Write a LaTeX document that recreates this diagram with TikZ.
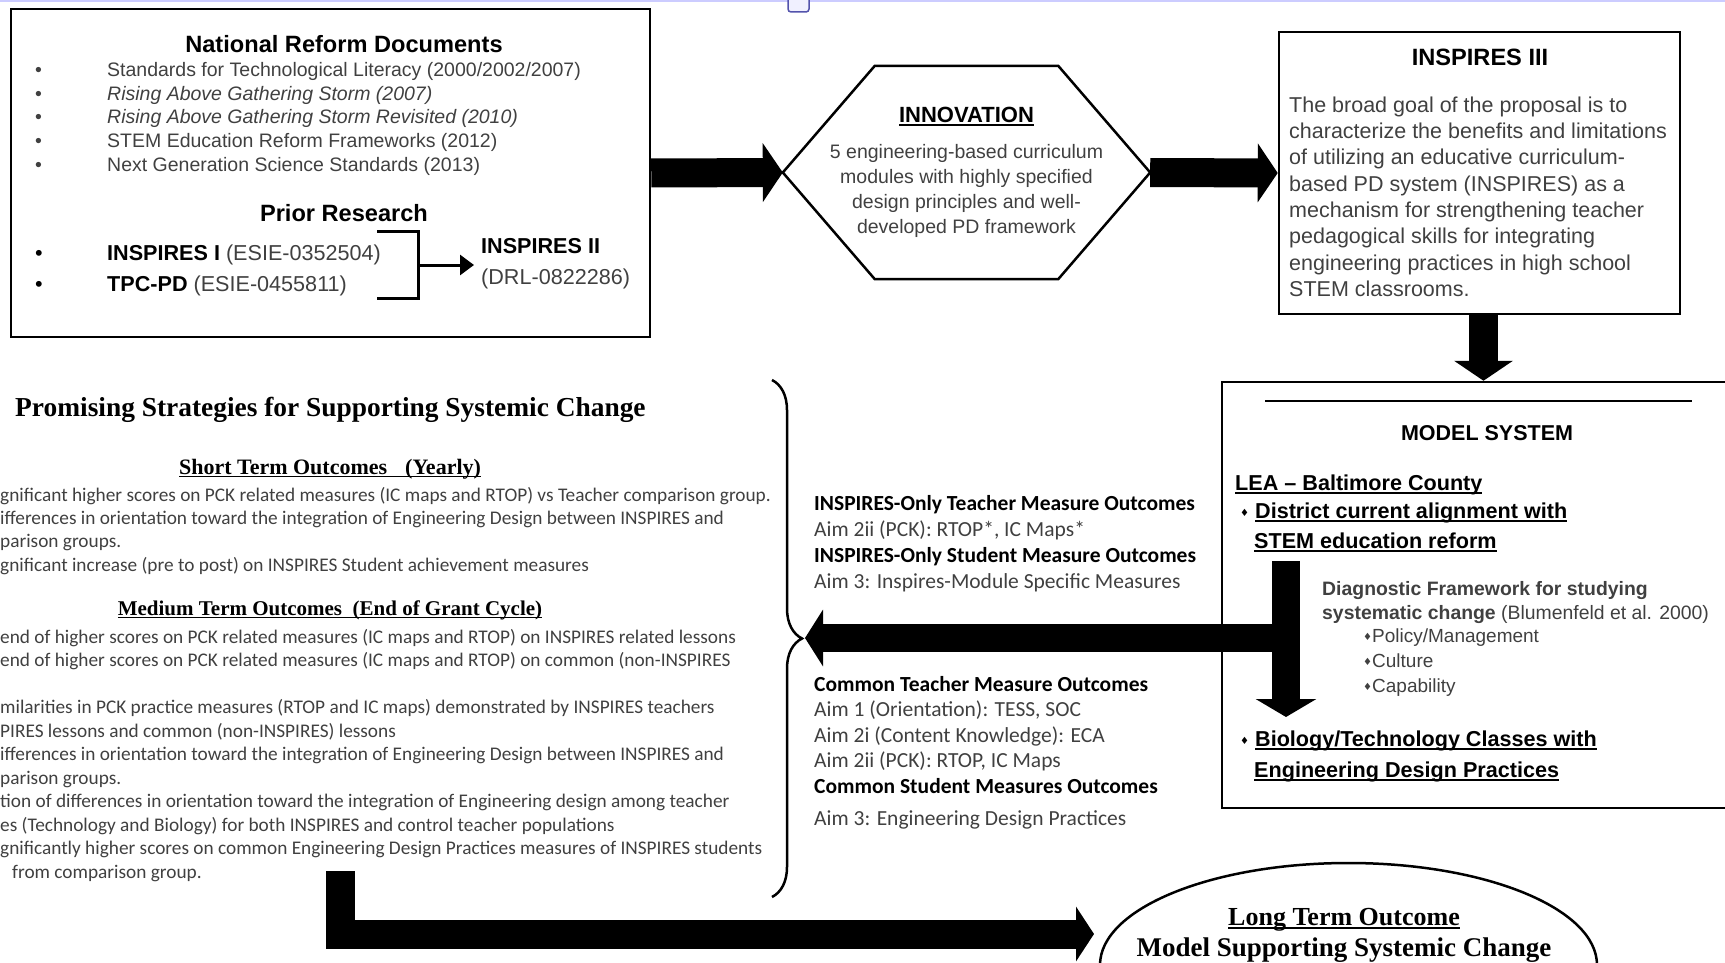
\documentclass[tikz,border=0pt]{standalone}
\usepackage{fontspec}
\setmainfont{Liberation Sans}
\newfontfamily\calib{Carlito}
\newfontfamily\camb{Liberation Serif}
\newfontfamily\symf{DejaVu Sans}
\usetikzlibrary{arrows.meta, decorations.pathreplacing, shapes.geometric}

\definecolor{txtgray}{gray}{0.25}
\newcommand{\fsz}[2]{\fontsize{#1}{#2}\selectfont}
\newcommand{\uln}[1]{\leavevmode\setbox0\hbox{#1}\rlap{\rule[-3pt]{\wd0}{1.5pt}}\box0}
\newcommand{\dotbul}[1]{\makebox[72pt][l]{\textbullet}#1}
\newcommand{\dia}{{\symf\fsz{10}{10}\raisebox{2pt}{♦}}}
\newcommand{\hd}[1]{\textbf{\textcolor{black}{#1}}}

\tikzstyle{box}=[rectangle, draw=black, line width=2.5pt, inner sep=0pt]
\tikzstyle{heading}=[inner sep=0pt, font=\bfseries\fsz{23.6}{26}]
\tikzstyle{textonly}=[align=left, anchor=north west, inner sep=0pt, text=txtgray]
\tikzstyle{bigarrow}=[line width=29pt, -{Triangle[length=20pt, width=58pt]}]

\begin{document}
\begin{tikzpicture}[x=1pt, y=-1pt]
  \clip (0,0) rectangle (1725,963);
  % Window edge
  \draw[blue!20, line width=3pt] (0,1) -- (1725,1);
  \draw[blue!35!gray, fill=blue!6, line width=1.5pt, rounded corners=3pt] (788,-6) rectangle (809,12);

  % Nodes
  \node (nrd) [box, minimum width=639pt, minimum height=328pt] at (330.5,173) {};
  \node (nrdtitle) [heading] at (344,44) {National Reform Documents};
  \node (nrdlist) [textonly, font=\fsz{19.5}{23.75}] at (35,62) {\dotbul{Standards for Technological Literacy (2000/2002/2007)}\\
    \dotbul{\textit{Rising Above Gathering Storm (2007)}}\\
    \dotbul{\textit{Rising Above Gathering Storm Revisited (2010)}}\\
    \dotbul{STEM Education Reform Frameworks (2012)}\\
    \dotbul{Next Generation Science Standards (2013)}};
  \node (priortitle) [heading] at (344,213) {Prior Research};
  \node (prior) [textonly, text=black, font=\fsz{21.6}{31}] at (35,245) {\dotbul{\textbf{INSPIRES I} \textcolor{txtgray}{(ESIE-0352504)}}\\
    \dotbul{\textbf{TPC-PD} \textcolor{txtgray}{(ESIE-0455811)}}};
  \node (ins2) [textonly, font=\fsz{21.6}{31}] at (481,238) {\hd{INSPIRES II}\\ (DRL-0822286)};
  \coordinate (brk) at (418,265);

  \node (inno) [minimum width=367pt, minimum height=213pt, inner sep=0pt, align=center, font=\fsz{19.5}{25}, text=txtgray] at (966.5,172.5)
    {\hd{\fsz{22}{25}\uln{INNOVATION}}\\[11pt] 5 engineering-based curriculum\\ modules with highly specified\\ design principles and well-\\ developed PD framework};

  \node (ins3) [box, minimum width=401pt, minimum height=282pt] at (1479.5,173) {};
  \node (ins3title) [heading] at (1480,57) {INSPIRES III};
  \node (ins3text) [textonly, font=\fsz{21.5}{26.3}] at (1289,96.5) {The broad goal of the proposal is to\\
    characterize the benefits and limitations\\
    of utilizing an educative curriculum-\\
    based PD system (INSPIRES) as a\\
    mechanism for strengthening teacher\\
    pedagogical skills for integrating\\
    engineering practices in high school\\
    STEM classrooms.};

  \node (model) [box, minimum width=513pt, minimum height=426pt] at (1478.5,595) {};
  \node (modeltitle) [heading, font=\bfseries\fsz{21.5}{24}] at (1487,433) {MODEL SYSTEM};
  \node (lea) [anchor=west, inner sep=0pt, font=\bfseries\fsz{21.6}{24}] at (1235,485) {\uln{LEA – Baltimore County}};
  \node (district) [textonly, text=black, font=\bfseries\fsz{21.6}{30}] at (1240,503) {\dia\ \uln{District current alignment with}\\ \hspace*{14pt}\uln{STEM education reform}};
  \node (diag) [textonly, font=\fsz{19.4}{24}] at (1322,581) {\textbf{Diagnostic Framework for studying}\\ \textbf{systematic change} (Blumenfeld et al. 2000)};
  \node (levers) [textonly, font=\fsz{19}{25}] at (1363,629) {\dia Policy/Management\\ \dia Culture\\ \dia Capability};
  \node (classes) [textonly, text=black, font=\bfseries\fsz{21.6}{31}] at (1240,731) {\dia\ \uln{Biology/Technology Classes with}\\ \hspace*{14pt}\uln{Engineering Design Practices}};
  \coordinate (dftop) at (1286,561);
  \coordinate (dfbot) at (1286,717);
  \coordinate (dfjoin) at (1286,638);

  \node (onlyout) [textonly, font=\calib\fsz{21.5}{26}] at (814,495) {\hd{INSPIRES-Only Teacher Measure Outcomes}\\
    Aim 2ii (PCK): RTOP*, IC Maps*\\
    \hd{INSPIRES-Only Student Measure Outcomes}\\
    Aim 3: Inspires-Module Specific Measures};
  \node (commonout) [textonly, font=\calib\fsz{21.5}{25.5}] at (814,676) {\hd{Common Teacher Measure Outcomes}\\
    Aim 1 (Orientation): TESS, SOC\\
    Aim 2i (Content Knowledge): ECA\\
    Aim 2ii (PCK): RTOP, IC Maps\\
    \hd{Common Student Measures Outcomes}\\[7pt]
    Aim 3: Engineering Design Practices};

  \node (strat) [anchor=west, inner sep=0pt, font=\camb\bfseries\fsz{27.4}{30}] at (15,410) {Promising Strategies for Supporting Systemic Change};
  \node (shortt) [inner sep=0pt, font=\camb\bfseries\fsz{22}{24}] at (330,469) {\uln{Short Term Outcomes\hspace{18pt}(Yearly)}};
  \node (shortl) [textonly, font=\calib\fsz{19.3}{23.3}] at (0,487) {gnificant higher scores on PCK related measures (IC maps and RTOP) vs Teacher comparison group.\\
    ifferences in orientation toward the integration of Engineering Design between INSPIRES and\\
    parison groups.\\
    gnificant increase (pre to post) on INSPIRES Student achievement measures};
  \node (medt) [inner sep=0pt, font=\camb\bfseries\fsz{21}{24}] at (330,610) {\uln{Medium Term Outcomes\ \ (End of Grant Cycle)}};
  \node (medl) [textonly, font=\calib\fsz{19.3}{23.5}] at (0,629) {end of higher scores on PCK related measures (IC maps and RTOP) on INSPIRES related lessons\\
    end of higher scores on PCK related measures (IC maps and RTOP) on common (non-INSPIRES\\
    \mbox{}\\
    milarities in PCK practice measures (RTOP and IC maps) demonstrated by INSPIRES teachers\\
    PIRES lessons and common (non-INSPIRES) lessons\\
    ifferences in orientation toward the integration of Engineering Design between INSPIRES and\\
    parison groups.\\
    tion of differences in orientation toward the integration of Engineering design among teacher\\
    es (Technology and Biology) for both INSPIRES and control teacher populations\\
    gnificantly higher scores on common Engineering Design Practices measures of INSPIRES students\\
    \hspace*{12pt}from comparison group.};
  \coordinate (stratbot) at (340,871);
  \coordinate (bracetip) at (805,638);

  \node (ltout) [ellipse, draw=black, line width=2.5pt, minimum width=497pt, minimum height=204pt] at (1348.5,965) {};
  \node (lttitle) [inner sep=0pt, font=\camb\bfseries\fsz{26}{28}] at (1344,920) {\uln{Long Term Outcome}};
  \node (ltmodel) [inner sep=0pt, font=\camb\bfseries\fsz{27}{30}] at (1344,950) {Model Supporting Systemic Change};
  \coordinate (ltin) at (1094,934);

  % Shapes
  \draw[line width=2.5pt] (inno.west) -- ([xshift=92pt]inno.north west) -- ([xshift=-92pt]inno.north east)
    -- (inno.east) -- ([xshift=-92pt]inno.south east) -- ([xshift=92pt]inno.south west) -- cycle;
  \draw[line width=2.5pt] (1265,401) -- (1692,401);
  \draw[line width=3pt] (377,231) -- (418,231) -- (418,298) -- (377,298);
  \draw[decorate, decoration={brace, amplitude=30pt}, line width=2.5pt] (772,380) -- (772,897);

  % Arrows
  \draw [bigarrow] (nrd.east) -- (inno.west);
  \draw [bigarrow] (inno.east) -- (ins3.west);
  \draw [bigarrow] ([xshift=4pt]ins3.south) -- ([xshift=4pt]ins3.south |- model.north);
  \draw [line width=3pt, -{Triangle[length=14pt, width=20pt]}] (brk) -- ([xshift=-7pt]brk -| ins2.west);
  \draw [line width=28pt, -{Triangle[length=18pt, width=56pt]}] (dfjoin) -- (bracetip);
  \draw [line width=28pt, -{Triangle[length=18pt, width=60pt]}] (dftop) -- (dfbot);
  \draw [line width=29pt, line join=miter, -{Triangle[length=18pt, width=54pt]}] (stratbot) -- (stratbot |- ltin) -- (ltin);
\end{tikzpicture}
\end{document}
